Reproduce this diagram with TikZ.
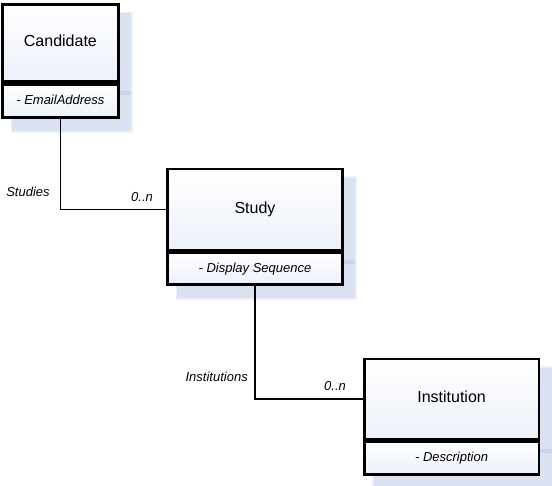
\documentclass[tikz,border=0pt]{standalone}
\usepackage{fontspec}
\setmainfont{Liberation Sans}
\usetikzlibrary{backgrounds}
\definecolor{shadowc}{RGB}{218,226,242}
\definecolor{shadowo}{RGB}{234,239,248}
\definecolor{stripec}{RGB}{200,213,236}
\definecolor{boxbot}{RGB}{236,241,250}
\tikzset{
  boxpart/.style={draw=black, line width=2.6pt, top color=white, bottom color=boxbot,
    inner sep=0pt, text height=0.72em, text depth=0pt, align=center},
  titlepart/.style={boxpart, font=\fontsize{16}{19}\selectfont},
  attrpart/.style={boxpart, font=\fontsize{13}{15}\selectfont\itshape},
  lbl/.style={font=\fontsize{13}{15}\selectfont\itshape, inner sep=0pt, text height=0.72em, text depth=0pt},
  conn/.style={draw=black, line width=1.6pt},
  shad/.style={fill=shadowc},
  shado/.style={fill=shadowo},
  strp/.style={fill=stripec}
}
\begin{document}
\begin{tikzpicture}[x=1pt,y=-1pt]
\useasboundingbox (0,0) rectangle (552,486);
% Candidate
\node[titlepart, minimum width=115.8pt, minimum height=77pt] (cand) at (60.4,43.2) {Candidate};
\node[attrpart, minimum width=115.8pt, minimum height=33pt, anchor=north] (candattr) at (cand.south) {- EmailAddress};
% Study
\node[titlepart, minimum width=174.6pt, minimum height=81pt] (study) at (255,209.5) {Study};
\node[attrpart, minimum width=174.6pt, minimum height=31.7pt, anchor=north] (studyattr) at (study.south) {- Display Sequence};
% Institution
\node[titlepart, minimum width=174.7pt, minimum height=80.5pt] (inst) at (451.6,399.2) {Institution};
\node[attrpart, minimum width=174.7pt, minimum height=32.2pt, anchor=north] (instattr) at (inst.south) {- Description};
% shadows
\begin{scope}[on background layer]
\foreach \t/\a in {cand/candattr, study/studyattr, inst/instattr}{
  \fill[shado] ([shift={(9.5,8.5)}]\t.north west) rectangle ([shift={(13,14)}]\a.south east);
  \fill[shad] ([shift={(11,10)}]\t.north west) rectangle ([shift={(11.5,12.5)}]\a.south east);
  \fill[strp] ([shift={(11,8.5)}]\a.north west) rectangle ([shift={(11.5,12.5)}]\a.north east);
}
% connectors
\draw[conn] (candattr.south) |- (study.west);
\draw[conn] (studyattr.south) |- (inst.west);
\end{scope}
% labels
\node[lbl] (l1) at (28,192.5) {Studies};
\node[lbl] (m1) at (142,198) {0..n};
\node[lbl] (l2) at (216.7,377.5) {Institutions};
\node[lbl] (m2) at (335,386.7) {0..n};
\end{tikzpicture}
\end{document}
